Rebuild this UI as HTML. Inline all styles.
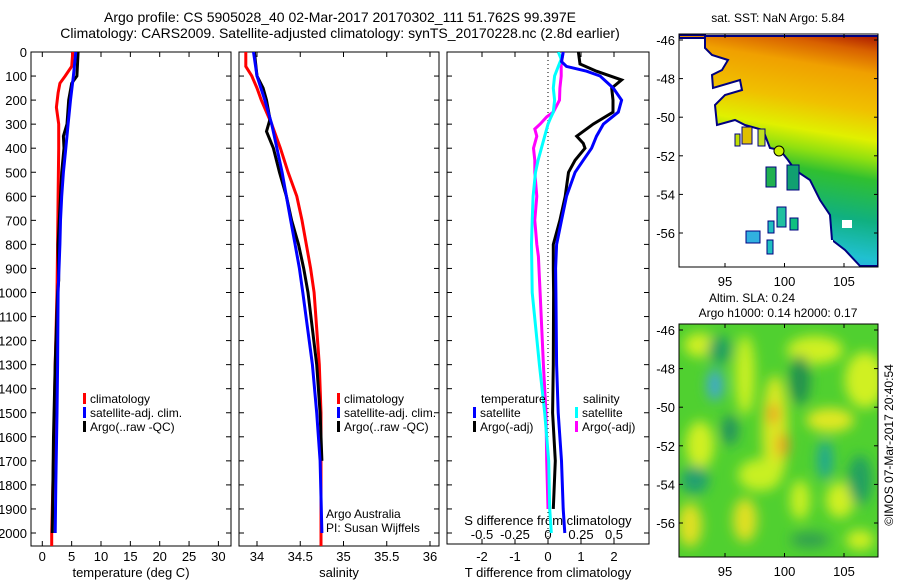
<!DOCTYPE html>
<html><head><meta charset="utf-8"><style>
html,body{margin:0;padding:0;background:#fff;}
svg{display:block;font-family:"Liberation Sans",sans-serif;}
</style></head><body>
<svg id="fig" width="900" height="580" viewBox="0 0 900 580" xmlns="http://www.w3.org/2000/svg">
<defs>
<linearGradient id="sstGrad" gradientUnits="userSpaceOnUse" x1="830" y1="30" x2="790" y2="270">
<stop offset="0" stop-color="#b02000"/><stop offset="0.06" stop-color="#d86000"/><stop offset="0.15" stop-color="#f0a000"/><stop offset="0.3" stop-color="#f0c000"/><stop offset="0.42" stop-color="#e0f000"/><stop offset="0.5" stop-color="#90e010"/><stop offset="0.58" stop-color="#30c030"/><stop offset="0.75" stop-color="#10b080"/><stop offset="0.9" stop-color="#20c0d0"/><stop offset="1" stop-color="#30a0f0"/>
</linearGradient>
<filter id="blur" x="-20%" y="-20%" width="140%" height="140%"><feGaussianBlur stdDeviation="6"/></filter>
<clipPath id="clipTop"><rect x="679" y="34" width="199" height="233"/></clipPath>
<clipPath id="clipBot"><rect x="679" y="324" width="199" height="233"/></clipPath>
<clipPath id="c1"><rect x="31" y="52" width="200" height="494"/></clipPath>
<clipPath id="c2"><rect x="239" y="52" width="200" height="494"/></clipPath>
<clipPath id="c3"><rect x="447" y="52" width="202" height="492"/></clipPath>
</defs>
<text x="340" y="22" font-size="14" text-anchor="middle">Argo profile: CS 5905028_40 02-Mar-2017 20170302_111 51.762S 99.397E</text>
<text x="340" y="38" font-size="14" text-anchor="middle">Climatology: CARS2009. Satellite-adjusted climatology: synTS_20170228.nc (2.8d earlier)</text>

<g id="p1"></g>
<g id="p2"></g>
<g id="p3"></g>

<!-- top map -->
<g>
<text x="778" y="22" font-size="12" text-anchor="middle">sat. SST: NaN Argo: 5.84</text>
<g clip-path="url(#clipTop)">
<rect x="679" y="34" width="199" height="233" fill="#fff"/>
<polygon fill="url(#sstGrad)" stroke="#000080" stroke-width="2" points="679,35 705,35 705,36 878,36 878,266 860,266 845,250 832,240 830,215 820,200 810,180 795,170 788,160 780,150 770,148 763,130 745,125 735,120 717,125 715,105 725,95 742,90 740,80 713,88 712,75 722,70 728,60 712,55 705,48 705,38 679,38"/>
<rect x="766" y="167" width="10" height="20" fill="#20b050" stroke="#000080"/>
<rect x="787" y="165" width="12" height="25" fill="#10a070" stroke="#000080"/>
<rect x="742" y="127" width="10" height="17" fill="#e0c000" stroke="#000080"/>
<rect x="735" y="134" width="5" height="12" fill="#c0e000" stroke="#000080"/>
<rect x="758" y="129" width="7" height="17" fill="#c0e020" stroke="#000080"/>
<rect x="777" y="207" width="9" height="20" fill="#20c0a0" stroke="#000080"/>
<rect x="768" y="221" width="6" height="12" fill="#20c0c0" stroke="#000080"/>
<rect x="767" y="240" width="6" height="14" fill="#20c0c0" stroke="#000080"/>
<rect x="746" y="231" width="14" height="12" fill="#30b0e0" stroke="#000080"/>
<rect x="790" y="218" width="8" height="12" fill="#10c080" stroke="#000080"/>
<rect x="819" y="240" width="14" height="26" fill="#fff"/>
<rect x="842" y="220" width="10" height="8" fill="#fff"/>
<circle cx="779" cy="151" r="5" fill="#c8f000" stroke="#000" stroke-width="1"/>
</g>
<rect x="679" y="34" width="199" height="233" fill="none" stroke="#000"/>
<g id="mapAxTop"></g>
</g>

<!-- bottom map -->
<g>
<text x="752" y="302" font-size="12" text-anchor="middle">Altim. SLA: 0.24</text>
<text x="778" y="317" font-size="12" text-anchor="middle">Argo h1000: 0.14 h2000: 0.17</text>
<g clip-path="url(#clipBot)">
<rect x="679" y="324" width="199" height="233" fill="#50d030"/>
<g filter="url(#blur)">
<ellipse cx="700" cy="345" rx="16" ry="12" fill="#d0f020"/>
<ellipse cx="745" cy="375" rx="10" ry="40" fill="#c8f020"/>
<ellipse cx="865" cy="380" rx="20" ry="28" fill="#d0f020"/>
<ellipse cx="815" cy="350" rx="28" ry="14" fill="#d0f020"/>
<ellipse cx="700" cy="445" rx="14" ry="24" fill="#d0f020"/>
<ellipse cx="775" cy="430" rx="13" ry="55" fill="#d8e820"/>
<ellipse cx="773" cy="414" rx="5" ry="10" fill="#f09020"/>
<ellipse cx="783" cy="445" rx="6" ry="12" fill="#f0a020"/>
<ellipse cx="760" cy="475" rx="22" ry="16" fill="#c8f020"/>
<ellipse cx="830" cy="420" rx="24" ry="12" fill="#e0e820"/>
<ellipse cx="745" cy="520" rx="12" ry="22" fill="#e0e020"/>
<ellipse cx="840" cy="500" rx="14" ry="18" fill="#d0f020"/>
<ellipse cx="690" cy="525" rx="12" ry="22" fill="#e0e020"/>
<ellipse cx="800" cy="500" rx="10" ry="20" fill="#c8f020"/>
<ellipse cx="860" cy="540" rx="14" ry="10" fill="#d0f020"/>
<ellipse cx="715" cy="385" rx="8" ry="16" fill="#40a8d0"/>
<ellipse cx="720" cy="350" rx="12" ry="14" fill="#20a060"/>
<ellipse cx="825" cy="460" rx="8" ry="20" fill="#20a890"/>
<ellipse cx="695" cy="480" rx="14" ry="14" fill="#20a070"/>
<ellipse cx="860" cy="480" rx="12" ry="25" fill="#20a060"/>
<ellipse cx="800" cy="380" rx="10" ry="25" fill="#209050"/>
<ellipse cx="730" cy="430" rx="8" ry="15" fill="#209060"/>
<ellipse cx="810" cy="540" rx="20" ry="8" fill="#30a050"/>
</g>
</g>
<rect x="679" y="324" width="199" height="233" fill="none" stroke="#000"/>
<g id="mapAxBot"></g>
</g>
<text transform="translate(893,445) rotate(-90)" font-size="12" text-anchor="middle">©IMOS 07-Mar-2017 20:40:54</text>

<script>
// ---- data ----
const depthTemp = [0,60,100,130,170,230,300,400,600,800,1000,1300,1600,1800,2000,2060];
const tempClim  = [5.2,5.0,3.9,3.0,2.7,2.4,2.8,2.8,2.7,2.6,2.5,2.2,2.0,1.8,1.6,1.6];
const depthSat  = [0,100,200,300,400,500,600,700,800,1000,1300,1500,1800,2000];
const tempSat   = [5.7,5.3,4.8,4.4,4.0,3.6,3.3,3.1,3.0,2.7,2.6,2.5,2.3,2.2];
const depthArgo = [0,100,130,200,300,350,400,500,600,700,800,950,1000,1300,1600,1800,2000];
const tempArgo  = [6.1,5.9,5.0,4.5,4.2,3.6,3.7,3.3,3.1,2.9,2.7,2.8,2.6,2.2,1.9,1.8,1.7];

const depthSalClim = [0,60,100,150,200,250,300,400,500,600,700,800,900,1000,1300,1500,2000,2060];
const salClim      = [33.87,33.87,33.94,34.0,34.05,34.11,34.17,34.27,34.36,34.46,34.52,34.57,34.62,34.66,34.72,34.74,34.74,34.74];
const depthSalSat  = [0,100,200,300,400,500,600,700,800,900,1000,1300,1500,1700,2000];
const salSat       = [33.96,34.0,34.09,34.17,34.23,34.29,34.34,34.39,34.44,34.49,34.53,34.64,34.69,34.73,34.75];
const depthSalArgo = [0,100,150,200,280,330,400,500,600,700,800,900,1000,1300,1500,1700];
const salArgo      = [33.97,34.0,34.07,34.11,34.15,34.11,34.19,34.26,34.34,34.40,34.48,34.54,34.59,34.69,34.73,34.75];

const depthDT   = [0,50,80,116,150,200,250,300,350,380,400,450,500,600,700,800,900,1000,1300,1500,1700,1900];
const dTArgo    = [0.92,0.97,1.47,2.23,1.93,1.97,1.97,1.37,0.87,1.07,1.12,0.82,0.62,0.52,0.36,0.16,0.16,0.17,0.16,0.14,0.22,0.16];
const depthDTs  = [0,40,60,80,100,150,200,250,300,350,400,450,500,600,700,800,900,1000,1300,1500,1700,1900,2000];
const dTSat     = [0.46,0.41,0.56,1.17,1.58,1.98,2.23,2.13,1.68,1.47,1.32,1.07,0.82,0.56,0.41,0.26,0.23,0.24,0.26,0.31,0.41,0.46,0.51];
const depthDS   = [0,30,60,100,150,200,250,280,300,350,400,450,500,600,700,800,1000,1300,1500,1700,1900,2000];
const dSSat     = [0.078,0.10,0.078,0.05,0.04,0.05,0.04,0.015,0.0,-0.025,-0.05,-0.075,-0.095,-0.113,-0.12,-0.125,-0.12,-0.065,-0.025,0.005,0.013,0.025];
const depthDSa  = [0,50,100,150,200,250,270,300,320,350,400,450,500,600,700,800,850,1000,1300,1500,1700,1900];
const dSArgo    = [0.115,0.1,0.1,0.09,0.087,0.04,-0.01,-0.06,-0.1,-0.085,-0.11,-0.1,-0.1,-0.085,-0.1,-0.085,-0.073,-0.06,-0.035,-0.015,-0.01,0.0];

const depthTicks = [0,100,200,300,400,500,600,700,800,900,1000,1100,1200,1300,1400,1500,1600,1700,1800,1900,2000];
const tempTicks  = [0,5,10,15,20,25,30];
const salTicks   = [34,34.5,35,35.5,36];
const salTickLabels = ["34","34.5","35","35.5","36"];
const dTTicks    = [-2,-1,0,1,2];
const dSTicks    = [-0.5,-0.25,0,0.25,0.5];
const dSTickLabels = ["-0.5","-0.25","0","0.25","0.5"];
const latTicks   = [-46,-48,-50,-52,-54,-56];
const lonTicks   = [95,100,105];

// ---- scales ----
const yD = d => 52 + d*0.2405;
const xT = t => 42.3 + t*5.87;
const xS = s => 257 + (s-34)*86.5;
const xDT = t => 548 + t*33;
const xDS = s => 548 + s*132;
const latY0 = lat => 40 + (-46-lat)*19.3;
const lonX = lon => 725 + (lon-95)*11.9;

const NS = "http://www.w3.org/2000/svg";
function mk(tag, attrs, parent){ const e=document.createElementNS(NS,tag); for(const k in attrs) e.setAttribute(k,attrs[k]); parent.appendChild(e); return e; }
function txt(parent, x, y, s, anchor, size){ const t=mk('text',{x:x,y:y,'font-size':size||12,'text-anchor':anchor||'middle'},parent); t.textContent=s; return t; }

function line(parent, xs, ds, xf, color, name, clip, w){
  const pts = xs.map((v,i)=> xf(v).toFixed(1)+','+yD(ds[i]).toFixed(1)).join(' ');
  const p = mk('polyline',{points:pts,fill:'none',stroke:color,'stroke-width':w||3,'stroke-linejoin':'miter','clip-path':'url(#'+clip+')'},parent);
  
  
}

function frame(parent, x0, x1, bottom, name){
  const r = mk('rect',{x:x0,y:52,width:x1-x0,height:bottom-52,fill:'none',stroke:'#000','stroke-width':1},parent);
  
  
}
function depthAxis(parent, x0, x1, labels){
  depthTicks.forEach(d=>{
    const y=yD(d);
    mk('line',{x1:x0,y1:y,x2:x0+5,y2:y,stroke:'#000'},parent);
    mk('line',{x1:x1,y1:y,x2:x1-5,y2:y,stroke:'#000'},parent);
    if(labels){ const t=txt(parent,27,y+5,String(d),'end',13);
      
       }
  });
}
function legendEntry(parent, x, y, color, label){
  const g = mk('g',{},parent);
  
  
  mk('rect',{x:x,y:y-10,width:3,height:11,fill:color},g);
  txt(g,x+7,y,label,'start',12);
}

// panel 1
const p1=document.getElementById('p1');
frame(p1,31,231,546,'temperature-axes');
depthAxis(p1,31,231,true);
tempTicks.forEach(t=>{ const x=xT(t);
  mk('line',{x1:x,y1:546,x2:x,y2:541,stroke:'#000'},p1); mk('line',{x1:x,y1:52,x2:x,y2:57,stroke:'#000'},p1);
  const l=txt(p1,x,561,String(t),'middle',13);
  
   });
const xl1=txt(p1,131,577,'temperature (deg C)','middle',13);


line(p1,tempClim,depthTemp,xT,'#ff0000','temp-climatology-line','c1');
line(p1,tempArgo,depthArgo,xT,'#000000','temp-argo-line','c1');
line(p1,tempSat,depthSat,xT,'#0000ff','temp-satellite-line','c1');
legendEntry(p1,83,403,'#ff0000','climatology');
legendEntry(p1,83,417,'#0000ff','satellite-adj. clim.');
legendEntry(p1,83,431,'#000000','Argo(..raw -QC)');

// panel 2
const p2=document.getElementById('p2');
frame(p2,239,439,546,'salinity-axes');
depthAxis(p2,239,439,false);
salTicks.forEach((s,i)=>{ const x=xS(s);
  mk('line',{x1:x,y1:546,x2:x,y2:541,stroke:'#000'},p2); mk('line',{x1:x,y1:52,x2:x,y2:57,stroke:'#000'},p2);
  const l=txt(p2,x,561,salTickLabels[i],'middle',13);
  
   });
const xl2=txt(p2,339,577,'salinity','middle',13);


line(p2,salClim,depthSalClim,xS,'#ff0000','sal-climatology-line','c2');
line(p2,salArgo,depthSalArgo,xS,'#000000','sal-argo-line','c2');
line(p2,salSat,depthSalSat,xS,'#0000ff','sal-satellite-line','c2');
legendEntry(p2,337,403,'#ff0000','climatology');
legendEntry(p2,337,417,'#0000ff','satellite-adj. clim.');
legendEntry(p2,337,431,'#000000','Argo(..raw -QC)');
const c1=txt(p2,326,518,'Argo Australia','start',12);


const c2=txt(p2,326,532,'PI: Susan Wijffels','start',12);



// panel 3
const p3=document.getElementById('p3');
frame(p3,447,649,544,'difference-axes');
depthTicks.forEach(d=>{ const y=yD(d); mk('line',{x1:447,y1:y,x2:452,y2:y,stroke:'#000'},p3); mk('line',{x1:649,y1:y,x2:644,y2:y,stroke:'#000'},p3); });
mk('line',{x1:548,y1:52,x2:548,y2:544,stroke:'#000','stroke-dasharray':'1,3'},p3);
dTTicks.forEach(t=>{ const x=xDT(t);
  mk('line',{x1:x,y1:52,x2:x,y2:57,stroke:'#000'},p3);
  const l=txt(p3,x,561,String(t),'middle',13);
  
   });
dSTicks.forEach((s,i)=>{ const x=xDS(s);
  mk('line',{x1:x,y1:544,x2:x,y2:539,stroke:'#000'},p3);
  const l=txt(p3,x,539,dSTickLabels[i],'middle',13);
  
   });
const st=txt(p3,548,525,'S difference from climatology','middle',13);


const tt=txt(p3,548,577,'T difference from climatology','middle',13);


line(p3,dSArgo,depthDSa,xDS,'#ff00ff','sdiff-argo-line','c3');
line(p3,dSSat,depthDS,xDS,'#00ffff','sdiff-satellite-line','c3');
line(p3,dTArgo,depthDT,xDT,'#000000','tdiff-argo-line','c3');
line(p3,dTSat,depthDTs,xDT,'#0000ff','tdiff-satellite-line','c3');
const lt=txt(p3,481,403,'temperature','start',12);


const ls=txt(p3,583,403,'salinity','start',12);


legendEntry(p3,473,417,'#0000ff','satellite');
legendEntry(p3,473,431,'#000000','Argo(-adj)');
legendEntry(p3,575,417,'#00ffff','satellite');
legendEntry(p3,575,431,'#ff00ff','Argo(-adj)');

// map axes
function mapAxes(id, top, bottom){
  const g=document.getElementById(id);
  latTicks.forEach(lat=>{ const y=latY0(lat)+(top-34);
    mk('line',{x1:679,y1:y,x2:683,y2:y,stroke:'#000'},g); mk('line',{x1:878,y1:y,x2:874,y2:y,stroke:'#000'},g);
    const l=txt(g,675,y+5,String(lat),'end',13);
    
     });
  lonTicks.forEach(lon=>{ const x=lonX(lon);
    mk('line',{x1:x,y1:bottom,x2:x,y2:bottom-4,stroke:'#000'},g); mk('line',{x1:x,y1:top,x2:x,y2:top+4,stroke:'#000'},g);
    const l=txt(g,x,bottom+19,String(lon),'middle',13);
    
     });
}
mapAxes('mapAxTop',34,267);
mapAxes('mapAxBot',324,557);
</script>
</svg>
</body></html>
